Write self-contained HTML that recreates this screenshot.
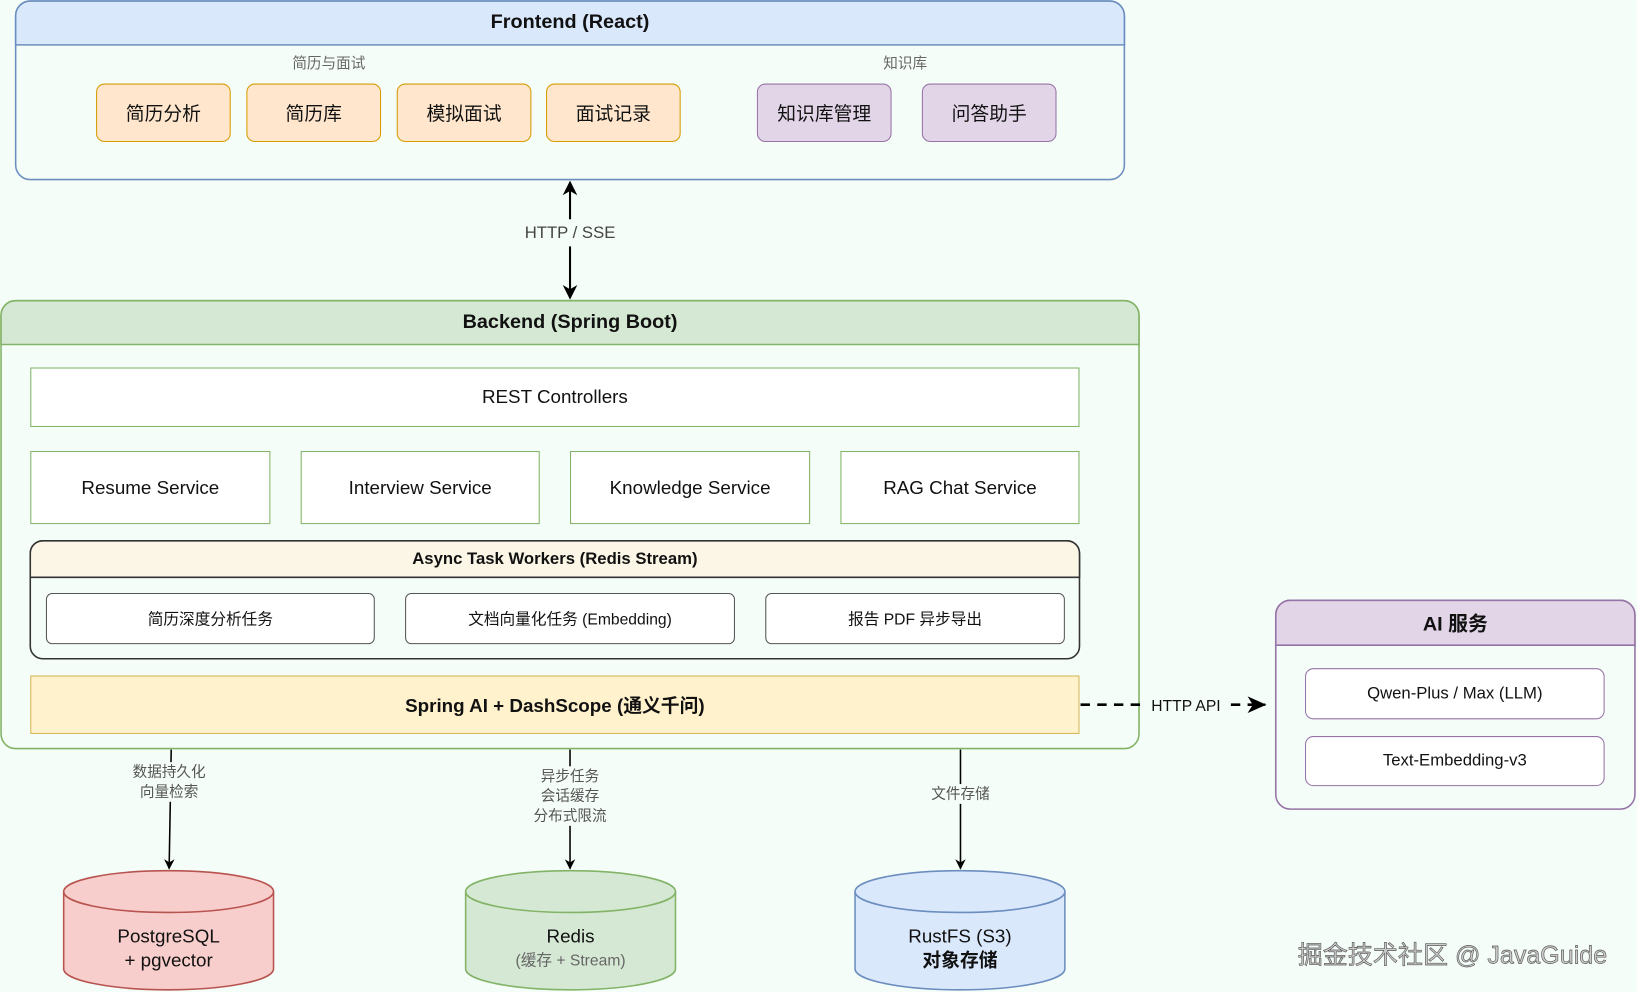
<!DOCTYPE html>
<html><head><meta charset="utf-8">
<style>
html,body{margin:0;padding:0;background:#f5fdf8;}
body{width:1637px;height:992px;overflow:hidden;position:relative;font-family:"Liberation Sans","Noto Sans CJK SC",sans-serif;color:#111;}
#w{position:absolute;left:0;top:0;width:1568px;height:950px;transform:scale(1.044);transform-origin:0 0;}
.a{position:absolute;box-sizing:border-box;display:flex;align-items:center;justify-content:center;text-align:center;}
.lbl{position:absolute;color:#555;font-size:14px;text-align:center;line-height:19px;background:#f5fdf8;}
</style></head><body>
<div id="w">
<svg width="1568" height="950" style="position:absolute;left:0;top:0">
<defs>
<marker id="ar" markerWidth="10" markerHeight="10" refX="9" refY="5" orient="auto" markerUnits="userSpaceOnUse"><path d="M0,0 L10,5 L0,10 L3,5 z" fill="#000"/></marker>
<marker id="ar2" markerWidth="18" markerHeight="16" refX="17" refY="8" orient="auto" markerUnits="userSpaceOnUse"><path d="M0,0 L18,8 L0,16 L5,8 z" fill="#000"/></marker>
</defs>
<!-- Frontend -->
<rect x="15" y="1" width="1062" height="171" rx="14" fill="#f5fdf8" stroke="#6c8ebf" stroke-width="1.5"/>
<path d="M15,43 V15 A14,14 0 0 1 29,1 H1063 A14,14 0 0 1 1077,15 V43 Z" fill="#dae8fc" stroke="#6c8ebf" stroke-width="1.5"/>
<!-- Backend -->
<rect x="1" y="288" width="1090" height="429" rx="14" fill="#f5fdf8" stroke="#82b366" stroke-width="1.5"/>
<path d="M1,330 V302 A14,14 0 0 1 15,288 H1077 A14,14 0 0 1 1091,302 V330 Z" fill="#d5e8d4" stroke="#82b366" stroke-width="1.5"/>
<!-- Async -->
<rect x="29" y="518" width="1005" height="113" rx="12" fill="#f5fdf8" stroke="#333" stroke-width="1.5"/>
<path d="M29,553 V530 A12,12 0 0 1 41,518 H1022 A12,12 0 0 1 1034,530 V553 Z" fill="#fcf6e6" stroke="#333" stroke-width="1.5"/>
<!-- AI -->
<rect x="1222" y="575" width="344" height="200" rx="14" fill="#f5fdf8" stroke="#9673a6" stroke-width="1.5"/>
<path d="M1222,618 V589 A14,14 0 0 1 1236,575 H1552 A14,14 0 0 1 1566,589 V618 Z" fill="#e1d5e7" stroke="#9673a6" stroke-width="1.5"/>
<!-- arrows -->
<line x1="546" y1="178" x2="546" y2="210" stroke="#000" stroke-width="2"/>
<path d="M546,173 L553,187 L546,183 L539,187 Z" fill="#000"/>
<line x1="546" y1="236" x2="546" y2="280" stroke="#000" stroke-width="2"/>
<path d="M546,287 L553,273 L546,277 L539,273 Z" fill="#000"/>
<line x1="1035" y1="675" x2="1212" y2="675" stroke="#000" stroke-width="2.5" stroke-dasharray="9,7" marker-end="url(#ar2)"/>
<line x1="164" y1="718" x2="162" y2="832" stroke="#000" stroke-width="1.5" marker-end="url(#ar)"/>
<line x1="546" y1="718" x2="546" y2="832" stroke="#000" stroke-width="1.5" marker-end="url(#ar)"/>
<line x1="920" y1="718" x2="920" y2="832" stroke="#000" stroke-width="1.5" marker-end="url(#ar)"/>
<!-- cylinders -->
<g stroke-width="1.5">
<path d="M61,854 V928 A100,20 0 0 0 262,928 V854" fill="#f8cecc" stroke="#b85450"/>
<ellipse cx="161.5" cy="854" rx="100.5" ry="20" fill="#f8cecc" stroke="#b85450"/>
<path d="M446,854 V928 A100,20 0 0 0 647,928 V854" fill="#d5e8d4" stroke="#82b366"/>
<ellipse cx="546.5" cy="854" rx="100.5" ry="20" fill="#d5e8d4" stroke="#82b366"/>
<path d="M819,854 V928 A100,20 0 0 0 1020,928 V854" fill="#dae8fc" stroke="#6c8ebf"/>
<ellipse cx="919.5" cy="854" rx="100.5" ry="20" fill="#dae8fc" stroke="#6c8ebf"/>
</g>
</svg>

<div class="a" style="left:15px;top:1px;width:1062px;height:42px;font-weight:bold;font-size:19px;">Frontend (React)</div>
<div class="a" style="left:255px;top:50px;width:120px;height:20px;font-size:14px;color:#666;">简历与面试</div>
<div class="a" style="left:807px;top:50px;width:120px;height:20px;font-size:14px;color:#666;">知识库</div>
<div class="a" style="left:92px;top:80px;width:129px;height:56px;background:#ffe6cc;border:1.5px solid #d79b00;border-radius:8px;font-size:18px;">简历分析</div>
<div class="a" style="left:236px;top:80px;width:129px;height:56px;background:#ffe6cc;border:1.5px solid #d79b00;border-radius:8px;font-size:18px;">简历库</div>
<div class="a" style="left:380px;top:80px;width:129px;height:56px;background:#ffe6cc;border:1.5px solid #d79b00;border-radius:8px;font-size:18px;">模拟面试</div>
<div class="a" style="left:523px;top:80px;width:129px;height:56px;background:#ffe6cc;border:1.5px solid #d79b00;border-radius:8px;font-size:18px;">面试记录</div>
<div class="a" style="left:725px;top:80px;width:129px;height:56px;background:#e1d5e7;border:1.5px solid #9673a6;border-radius:8px;font-size:18px;">知识库管理</div>
<div class="a" style="left:883px;top:80px;width:129px;height:56px;background:#e1d5e7;border:1.5px solid #9673a6;border-radius:8px;font-size:18px;">问答助手</div>

<div class="a" style="left:490px;top:213px;width:112px;height:22px;font-size:16px;color:#444;">HTTP / SSE</div>

<div class="a" style="left:1px;top:288px;width:1090px;height:42px;font-weight:bold;font-size:19px;">Backend (Spring Boot)</div>
<div class="a" style="left:29px;top:352px;width:1005px;height:57px;background:#fff;border:1.5px solid #82b366;font-size:18px;">REST Controllers</div>
<div class="a" style="left:29px;top:432px;width:230px;height:70px;background:#fff;border:1.5px solid #82b366;font-size:18px;">Resume Service</div>
<div class="a" style="left:288px;top:432px;width:229px;height:70px;background:#fff;border:1.5px solid #82b366;font-size:18px;">Interview Service</div>
<div class="a" style="left:546px;top:432px;width:230px;height:70px;background:#fff;border:1.5px solid #82b366;font-size:18px;">Knowledge Service</div>
<div class="a" style="left:805px;top:432px;width:229px;height:70px;background:#fff;border:1.5px solid #82b366;font-size:18px;">RAG Chat Service</div>
<div class="a" style="left:29px;top:518px;width:1005px;height:35px;font-weight:bold;font-size:16px;">Async Task Workers (Redis Stream)</div>
<div class="a" style="left:44px;top:568px;width:315px;height:49px;background:#fff;border:1.5px solid #555;border-radius:6px;font-size:15px;">简历深度分析任务</div>
<div class="a" style="left:388px;top:568px;width:316px;height:49px;background:#fff;border:1.5px solid #555;border-radius:6px;font-size:15px;">文档向量化任务 (Embedding)</div>
<div class="a" style="left:733px;top:568px;width:287px;height:49px;background:#fff;border:1.5px solid #555;border-radius:6px;font-size:15px;">报告 PDF 异步导出</div>
<div class="a" style="left:29px;top:647px;width:1005px;height:56px;background:#fff2cc;border:1.5px solid #d6b656;font-weight:bold;font-size:18px;">Spring AI + DashScope (通义千问)</div>

<div class="a" style="left:1098px;top:666px;width:76px;height:20px;font-size:15px;background:#f5fdf8;">HTTP API</div>

<div class="a" style="left:1222px;top:575px;width:344px;height:43px;font-weight:bold;font-size:19px;">AI 服务</div>
<div class="a" style="left:1250px;top:640px;width:287px;height:49px;background:#fff;border:1.5px solid #9673a6;border-radius:8px;font-size:16px;">Qwen-Plus / Max (LLM)</div>
<div class="a" style="left:1250px;top:705px;width:287px;height:48px;background:#fff;border:1.5px solid #9673a6;border-radius:8px;font-size:16px;">Text-Embedding-v3</div>

<div class="lbl" style="left:117px;top:730px;width:90px;">数据持久化<br>向量检索</div>
<div class="lbl" style="left:501px;top:734px;width:90px;">异步任务<br>会话缓存<br>分布式限流</div>
<div class="lbl" style="left:880px;top:751px;width:80px;">文件存储</div>

<div class="a" style="left:61px;top:884px;width:201px;height:50px;font-size:18px;line-height:23px;flex-direction:column;"><div>PostgreSQL</div><div>+ pgvector</div></div>
<div class="a" style="left:446px;top:884px;width:201px;height:50px;font-size:18px;line-height:23px;flex-direction:column;"><div>Redis</div><div style="font-size:15px;color:#666;">(缓存 + Stream)</div></div>
<div class="a" style="left:819px;top:884px;width:201px;height:50px;font-size:18px;line-height:23px;flex-direction:column;"><div>RustFS (S3)</div><div style="font-weight:bold;">对象存储</div></div>

<div style="position:absolute;left:1243px;top:895px;font-size:24px;color:#ccc;-webkit-text-stroke:0.6px #555;white-space:nowrap;">掘金技术社区 @ JavaGuide</div>
</div>
</body></html>
